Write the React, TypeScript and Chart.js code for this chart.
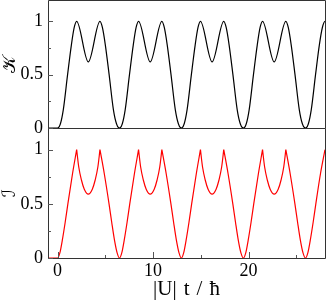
import React, { useEffect, useRef } from 'react';
import { Chart, registerables } from 'chart.js';

Chart.register(...registerables);

// ---- axes ----
const xMin = -1;
const xMax = 28;
const yMin = 0;
const yMax = 1.2;
const yTickValues = [0, 0.25, 0.5, 0.75, 1];
const yTickLabels = ['0', '', '0.5', '', '1'];
const xTickValues = [0, 5, 10, 15, 20, 25];
const xTickLabels = ['0', '', '10', '', '20', ''];
const xTitle = '|U|\u2004t\u2004/\u2004ħ';
const kTitle = '𝒦';
const iTitle = 'ℐ';

// ---- top panel (black) ----
const tK = [
  -1, 0, 0.3, 0.6, 1.05, 1.45, 1.74, 2.0, 3.22, 4.44, 4.7, 5.0, 5.4, 5.85, 6.17, 6.48,
  6.78, 7.08, 7.53, 7.93, 8.22, 8.48, 9.7, 10.92, 11.18, 11.48, 11.88, 12.33, 12.65, 12.96,
  13.26, 13.56, 14.01, 14.41, 14.7, 14.96, 16.18, 17.4, 17.66, 17.96, 18.36, 18.81, 19.13, 19.46,
  19.76, 20.06, 20.51, 20.91, 21.2, 21.46, 22.68, 23.9, 24.16, 24.46, 24.86, 25.31, 25.63, 25.96,
  26.26, 26.56, 27.01, 27.41, 27.72, 28.0, 29.22,
];
const kValues = [
  0, 0, 0.04, 0.17, 0.5, 0.78, 0.94, 1.0, 0.62, 1.0, 0.94, 0.78, 0.5, 0.17, 0.04, 0,
  0.04, 0.17, 0.5, 0.78, 0.94, 1.0, 0.62, 1.0, 0.94, 0.78, 0.5, 0.17, 0.04, 0,
  0.04, 0.17, 0.5, 0.78, 0.94, 1.0, 0.62, 1.0, 0.94, 0.78, 0.5, 0.17, 0.04, 0,
  0.04, 0.17, 0.5, 0.78, 0.94, 1.0, 0.62, 1.0, 0.94, 0.78, 0.5, 0.17, 0.04, 0,
  0.04, 0.17, 0.5, 0.78, 0.94, 1.0, 0.62,
];

// ---- bottom panel (red); null marks a cusp break ----
const tI = [
  -1, 0, 0.25, 0.5, 0.8, 1.08, 1.57, 2.0, 2.0, 2.0, 2.22, 2.5, 2.8, 3.22, 3.64, 3.94, 4.22, 4.44, 4.44, 4.44,
  4.89, 5.39, 5.67, 5.96, 6.23, 6.48,
  6.73, 6.98, 7.28, 7.56, 8.05, 8.48, 8.48, 8.48, 8.7, 8.98, 9.28, 9.7, 10.12, 10.42, 10.7, 10.92, 10.92, 10.92,
  11.37, 11.87, 12.15, 12.44, 12.71, 12.96,
  13.21, 13.46, 13.76, 14.04, 14.53, 14.96, 14.96, 14.96, 15.18, 15.46, 15.76, 16.18, 16.6, 16.9, 17.18, 17.4, 17.4, 17.4,
  17.85, 18.35, 18.63, 18.92, 19.19, 19.46,
  19.71, 19.96, 20.26, 20.54, 21.03, 21.46, 21.46, 21.46, 21.68, 21.96, 22.26, 22.68, 23.1, 23.4, 23.68, 23.9, 23.9, 23.9,
  24.35, 24.85, 25.13, 25.42, 25.69, 25.96,
  26.21, 26.46, 26.76, 27.04, 27.53, 28.0, 28.0, 28.0, 28.22, 28.5,
];
const iValues = [
  0, 0, 0.05, 0.165, 0.33, 0.5, 0.78, 1.0, null, 1.0, 0.84, 0.72, 0.635, 0.59, 0.635, 0.72, 0.84, 1.0, null, 1.0,
  0.78, 0.5, 0.33, 0.165, 0.05, 0,
  0.05, 0.165, 0.33, 0.5, 0.78, 1.0, null, 1.0, 0.84, 0.72, 0.635, 0.59, 0.635, 0.72, 0.84, 1.0, null, 1.0,
  0.78, 0.5, 0.33, 0.165, 0.05, 0,
  0.05, 0.165, 0.33, 0.5, 0.78, 1.0, null, 1.0, 0.84, 0.72, 0.635, 0.59, 0.635, 0.72, 0.84, 1.0, null, 1.0,
  0.78, 0.5, 0.33, 0.165, 0.05, 0,
  0.05, 0.165, 0.33, 0.5, 0.78, 1.0, null, 1.0, 0.84, 0.72, 0.635, 0.59, 0.635, 0.72, 0.84, 1.0, null, 1.0,
  0.78, 0.5, 0.33, 0.165, 0.05, 0,
  0.05, 0.165, 0.33, 0.5, 0.78, 1.0, null, 1.0, 0.84, 0.72,
];

const SERIF = '"Liberation Serif", "Times New Roman", serif';
const MATH = '"DejaVu Serif", "DejaVu Sans", serif';
const FRAME = '#333333';

const framePlugin = {
  id: 'frame',
  afterDatasetsDraw(chart: any, _args: any, opts: any) {
    const { ctx, chartArea: a, scales } = chart;
    const L = a.left + 0.5;
    const R = a.right + 0.5;
    const T = a.top + 0.5;
    const B = a.bottom + 0.5;
    ctx.save();
    ctx.strokeStyle = FRAME;
    ctx.lineWidth = 1;
    ctx.beginPath();
    if (opts.top) {
      ctx.moveTo(L, T);
      ctx.lineTo(R, T);
    }
    ctx.moveTo(L, T);
    ctx.lineTo(L, B);
    ctx.moveTo(R, T);
    ctx.lineTo(R, B);
    ctx.moveTo(L, B);
    ctx.lineTo(R, B);
    ctx.stroke();
    ctx.strokeStyle = '#555555';
    ctx.beginPath();
    const ys = scales.y;
    yTickValues.forEach((v, i) => {
      const py = Math.round(ys.getPixelForValue(v)) + 0.5;
      const len = yTickLabels[i] ? 5 : 3;
      ctx.moveTo(a.left, py);
      ctx.lineTo(a.left + len, py);
    });
    if (opts.xTicks) {
      const xs = scales.x;
      xTickValues.forEach((v, i) => {
        const px = Math.round(xs.getPixelForValue(v)) + 0.5;
        const len = xTickLabels[i] ? 6 : 3;
        ctx.moveTo(px, a.bottom);
        ctx.lineTo(px, a.bottom - len);
      });
    }
    ctx.stroke();
    ctx.restore();
  },
};

function yScale(title: string) {
  return {
    type: 'linear',
    min: yMin,
    max: yMax,
    afterBuildTicks: (s: any) => {
      s.ticks = yTickValues.map((v) => ({ value: v }));
    },
    afterFit: (s: any) => {
      s.width = 48;
      s.paddingTop = 0;
      s.paddingBottom = 0;
    },
    ticks: {
      autoSkip: false,
      padding: 5,
      color: '#000',
      font: { family: SERIF, size: 18 },
      callback: (v: number) => {
        const i = yTickValues.indexOf(v);
        return i >= 0 ? yTickLabels[i] : '';
      },
    },
    grid: { display: false, drawTicks: false, tickLength: 0 },
    border: { display: false },
    title: {
      display: true,
      text: title,
      color: '#000',
      padding: 0,
      font: { family: MATH, size: 18 },
    },
  };
}

function xScale(show: boolean) {
  return {
    type: 'linear',
    min: xMin,
    max: xMax,
    display: show,
    afterBuildTicks: (s: any) => {
      s.ticks = xTickValues.map((v) => ({ value: v }));
    },
    afterFit: (s: any) => {
      s.height = show ? 42 : 0;
      s.paddingLeft = 0;
      s.paddingRight = 0;
    },
    ticks: {
      autoSkip: false,
      maxRotation: 0,
      padding: 2,
      color: '#000',
      font: { family: SERIF, size: 18 },
      callback: (v: number) => {
        const i = xTickValues.indexOf(v);
        return i >= 0 ? xTickLabels[i] : '';
      },
    },
    grid: { display: false, drawTicks: false, tickLength: 0 },
    border: { display: false },
    title: {
      display: show,
      text: xTitle,
      color: '#000',
      padding: { top: 0, bottom: 0 },
      font: { family: SERIF, size: 21, lineHeight: 1 },
    },
  };
}

function makeConfig(
  ts: number[],
  vs: (number | null)[],
  color: string,
  title: string,
  bottom: boolean,
): any {
  return {
    type: 'line',
    data: {
      datasets: [
        {
          data: ts.map((t, i) => ({ x: t, y: vs[i] })),
          borderColor: color,
          borderWidth: 1.2,
          pointRadius: 0,
          fill: false,
          spanGaps: false,
          cubicInterpolationMode: 'monotone',
        },
      ],
    },
    options: {
      responsive: false,
      animation: false,
      devicePixelRatio: 1,
      layout: { padding: { left: 0, right: 2, top: 0, bottom: bottom ? 0 : 17 } },
      plugins: {
        legend: { display: false },
        tooltip: { enabled: false },
        frame: { top: !bottom, xTicks: bottom },
      },
      scales: {
        x: xScale(bottom),
        y: yScale(title),
      },
    },
    plugins: [framePlugin],
  };
}

export default function App() {
  const topRef = useRef<HTMLCanvasElement>(null);
  const botRef = useRef<HTMLCanvasElement>(null);

  useEffect(() => {
    document.body.style.margin = '0';
    const c1 = new Chart(topRef.current as HTMLCanvasElement, makeConfig(tK, kValues, '#000000', kTitle, false));
    const c2 = new Chart(botRef.current as HTMLCanvasElement, makeConfig(tI, iValues, '#ff0000', iTitle, true));
    return () => {
      c1.destroy();
      c2.destroy();
    };
  }, []);

  return (
    <div style={{ position: 'relative', width: 327, height: 300, background: '#fff', overflow: 'hidden' }}>
      <canvas
        ref={topRef}
        width={327}
        height={145}
        style={{ position: 'absolute', left: 0, top: 0, display: 'block' }}
      />
      <canvas
        ref={botRef}
        width={327}
        height={172}
        style={{ position: 'absolute', left: 0, top: 128, display: 'block' }}
      />
    </div>
  );
}
